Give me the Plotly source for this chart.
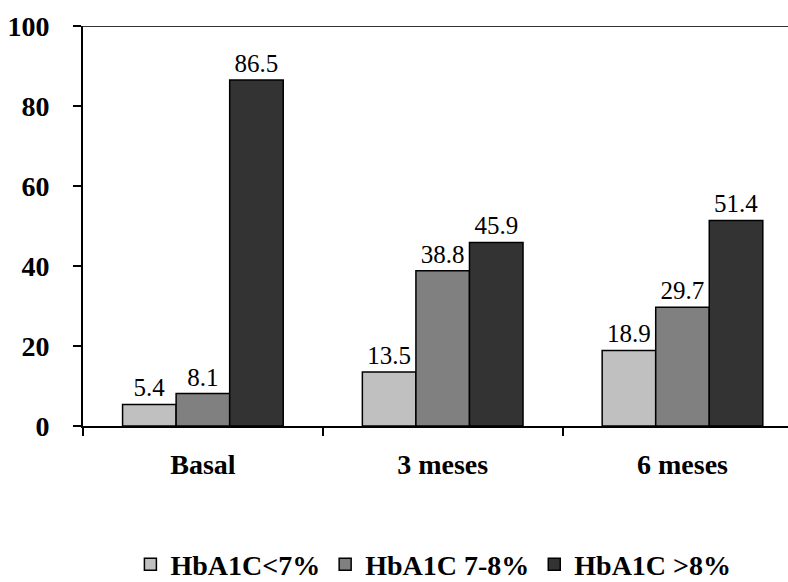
import plotly.graph_objects as go

categories = ["Basal", "3 meses", "6 meses"]
series_names = ["HbA1C<7%", "HbA1C 7-8%", "HbA1C >8%"]
values_lt7 = [5.4, 13.5, 18.9]
values_7to8 = [8.1, 38.8, 29.7]
values_gt8 = [86.5, 45.9, 51.4]
colors = ["#c0c0c0", "#808080", "#333333"]
y_ticks = [0, 20, 40, 60, 80, 100]

FONT = "Liberation Serif"

fig = go.Figure()
for name, vals, col in zip(series_names, [values_lt7, values_7to8, values_gt8], colors):
    fig.add_trace(go.Bar(
        x=categories, y=vals, name=name,
        marker=dict(color=col, line=dict(color="black", width=1.5)),
        text=[f"{v:.1f}" for v in vals],
        textposition="outside",
        textfont=dict(family=FONT, size=25, color="black"),
        cliponaxis=False,
    ))

fig.update_layout(
    width=788, height=582,
    margin=dict(l=83, r=0, t=26, b=156, autoexpand=False),
    paper_bgcolor="white", plot_bgcolor="white",
    barmode="group", bargap=0.33, bargroupgap=0,
    showlegend=True,
    legend=dict(orientation="h", x=0.55, xanchor="center", xref="container",
                y=0.03, yanchor="middle", yref="container",
                font=dict(family=FONT, size=28, color="black", weight="bold"),
                itemwidth=30, tracegroupgap=0),
    font=dict(family=FONT, color="black"),
)
fig.update_xaxes(
    range=[-0.5, 2.44],
    showline=True, linecolor="black", linewidth=2,
    ticks="outside", tickson="boundaries", ticklen=8, tickwidth=1.5, tickcolor="black",
    tickfont=dict(family=FONT, size=28, color="black", weight="bold"),
    ticklabelstandoff=12,
    showgrid=False, zeroline=False,
)
fig.update_yaxes(
    range=[0, 100], tickvals=y_ticks,
    showline=True, linecolor="black", linewidth=2,
    ticks="outside", ticklen=8, tickwidth=1.5, tickcolor="black",
    tickfont=dict(family=FONT, size=28, color="black", weight="bold"),
    ticklabelstandoff=18,
    showgrid=False, zeroline=False,
)
fig.add_shape(type="line", xref="paper", yref="y", x0=0, x1=1, y0=100, y1=100,
              line=dict(color="#333333", width=2))

fig.write_html("out.html")
